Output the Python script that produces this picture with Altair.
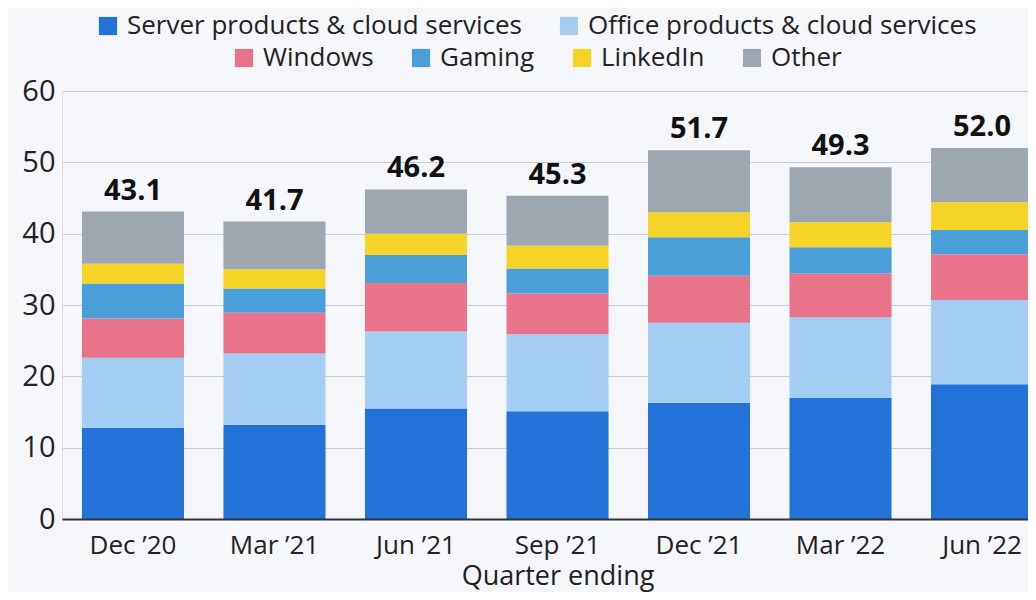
import altair as alt
import pandas as pd

quarters = ["Dec \u201920", "Mar \u201921", "Jun \u201921", "Sep \u201921", "Dec \u201921", "Mar \u201922", "Jun \u201922"]
series_names = ["Server products & cloud services", "Office products & cloud services",
                "Windows", "Gaming", "LinkedIn", "Other"]
colors = ["#2272d8", "#a3cdf2", "#e8738b", "#4a9fd8", "#f5d327", "#9ea7b0"]

server = [12.8, 13.2, 15.5, 15.1, 16.3, 17.0, 18.9]
office = [9.8, 10.0, 10.8, 10.8, 11.2, 11.3, 11.8]
windows = [5.5, 5.7, 6.8, 5.7, 6.6, 6.1, 6.4]
gaming = [4.9, 3.4, 3.9, 3.5, 5.4, 3.7, 3.4]
linkedin = [2.8, 2.7, 3.0, 3.2, 3.5, 3.5, 3.9]
other = [7.3, 6.7, 6.2, 7.0, 8.7, 7.7, 7.6]
totals = [43.1, 41.7, 46.2, 45.3, 51.7, 49.3, 52.0]
y_ticks = [0, 10, 20, 30, 40, 50, 60]

values = [server, office, windows, gaming, linkedin, other]
rows = []
for si, (name, vals) in enumerate(zip(series_names, values)):
    for q, v in zip(quarters, vals):
        rows.append({"quarter": q, "series": name, "order": si, "value": v})
df = pd.DataFrame(rows)
tot_df = pd.DataFrame({"quarter": quarters, "total": totals})

FONT = "Open Sans"
TXT = "#222222"

x_enc = alt.X(
    "quarter:N", sort=quarters,
    scale=alt.Scale(range=[0, 991], paddingInner=0.279, paddingOuter=0.141),
    axis=alt.Axis(title="Quarter ending", labelAngle=0, labelFontSize=26, labelColor=TXT,
                  labelFont=FONT, titleFont=FONT, titleFontSize=27, titleFontWeight="normal",
                  titleColor=TXT, titleBaseline="alphabetic", titleY=65,
                  domainColor="#333333", domainWidth=2, ticks=False,
                  tickSize=0, labelPadding=13, grid=False, zindex=1),
)
y_axis = alt.Axis(title=None, values=y_ticks, labelFontSize=29, labelColor=TXT, labelFont=FONT,
                  domain=False, ticks=False, tickSize=0, labelPadding=7,
                  gridColor="#c9cdd3", gridWidth=1)


def legend(x, y):
    return alt.Legend(orient="none", legendX=x, legendY=y, direction="horizontal", title=None,
                      symbolType="square", symbolSize=330, symbolStrokeWidth=0,
                      labelFontSize=26, labelColor=TXT, labelFont=FONT, labelLimit=700,
                      labelOffset=6, columnPadding=34, padding=0, offset=0)


base = alt.Chart(df).transform_stack(
    stack="value", groupby=["quarter"], as_=["v0", "v1"],
    sort=[alt.SortField("order", order="ascending")],
)

bars_a = base.transform_filter(
    alt.FieldOneOfPredicate(field="series", oneOf=series_names[:2])
).mark_bar().encode(
    x=x_enc,
    y=alt.Y("v0:Q", scale=alt.Scale(domain=[0, 60]), axis=y_axis),
    y2="v1:Q",
    color=alt.Color("series:N", scale=alt.Scale(domain=series_names[:2], range=colors[:2]),
                    legend=legend(33, -78)),
)

bars_b = base.transform_filter(
    alt.FieldOneOfPredicate(field="series", oneOf=series_names[2:])
).mark_bar().encode(
    x=x_enc,
    y=alt.Y("v0:Q", scale=alt.Scale(domain=[0, 60]), axis=y_axis),
    y2="v1:Q",
    color=alt.Color("series:N", scale=alt.Scale(domain=series_names[2:], range=colors[2:]),
                    legend=legend(169, -46)),
)

labels = alt.Chart(tot_df).mark_text(
    fontSize=29, fontWeight="bold", color="#111111", baseline="alphabetic", dy=-12, font=FONT
).encode(
    x=x_enc,
    y=alt.Y("total:Q", scale=alt.Scale(domain=[0, 60]), axis=y_axis),
    text=alt.Text("total:Q", format=".1f"),
)

chart = alt.layer(bars_a, bars_b, labels).resolve_scale(color="independent").properties(
    width=966, height=428,
    autosize=alt.AutoSizeParams(type="none"),
    padding={"left": 54, "top": 83, "right": 0, "bottom": 73},
).configure_view(stroke=None).configure(background="#f4f6f9", font=FONT)

chart.save("out.html", embed_options={"renderer": "svg", "actions": False})
